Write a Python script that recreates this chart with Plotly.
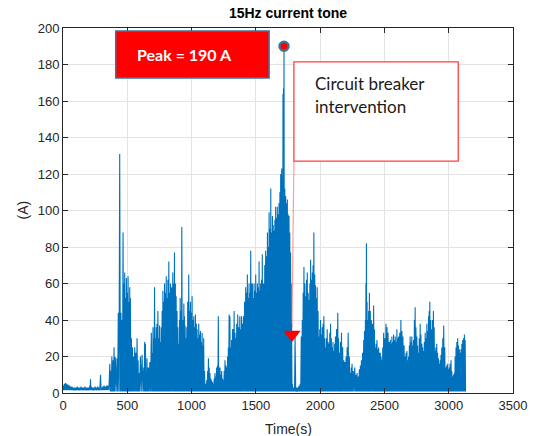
import numpy as np
import plotly.graph_objects as go

# ---- data (time in s, peak current in A) ----
t_peak = [0, 10, 20, 30, 40, 50, 60, 70, 80, 90, 100, 110, 120, 130, 140, 150, 160, 170,
          180, 190, 200, 208, 214, 220, 230, 240, 250, 260, 270, 280, 292, 300, 310, 320,
          330, 340, 350, 364, 372, 380, 390, 397, 407, 420, 430, 441, 451, 459, 467, 474,
          480, 487, 493, 500, 506, 513, 519, 524, 532, 540, 549, 558, 567, 576, 584, 591,
          602, 615, 628, 635, 641, 648, 653, 660, 667, 675, 687, 694, 700, 706, 712, 718,
          725, 731, 738, 745, 751, 758, 764, 771, 777, 784, 790, 797, 803, 810, 816, 823,
          830, 836, 845, 854, 860, 867, 874, 880, 887, 893, 901, 906, 911, 918, 924, 932,
          940, 945, 950, 957, 963, 970, 978, 985, 991, 998, 1004, 1010, 1017, 1024, 1030,
          1037, 1043, 1050, 1056, 1063, 1069, 1076, 1082, 1088, 1094, 1101, 1107, 1112,
          1118, 1125, 1131, 1137, 1143, 1150, 1156, 1163, 1169, 1176, 1182, 1189, 1195,
          1202, 1208, 1215, 1221, 1228, 1234, 1241, 1247, 1254, 1260, 1267, 1273, 1280,
          1286, 1292, 1298, 1305, 1311, 1318, 1327, 1331, 1338, 1344, 1351, 1359, 1367,
          1375, 1381, 1388, 1395, 1403, 1412, 1421, 1428, 1434, 1440, 1447, 1453, 1460,
          1467, 1473, 1480, 1486, 1493, 1499, 1506, 1512, 1518, 1525, 1531, 1537, 1544,
          1550, 1557, 1563, 1569, 1576, 1583, 1590, 1597, 1603, 1610, 1616, 1622, 1629,
          1635, 1641, 1648, 1654, 1661, 1667, 1674, 1680, 1687, 1693, 1697, 1701, 1706,
          1711, 1715, 1719, 1725, 1732, 1738, 1745, 1751, 1758, 1764, 1770, 1775, 1778,
          1784, 1790, 1797, 1805, 1815, 1825, 1835, 1845, 1853, 1861, 1868, 1874, 1881,
          1887, 1894, 1900, 1907, 1913, 1920, 1926, 1932, 1939, 1945, 1951, 1958, 1964,
          1971, 1977, 1984, 1990, 1997, 2003, 2010, 2016, 2023, 2029, 2036, 2042, 2049,
          2055, 2062, 2068, 2075, 2081, 2087, 2093, 2100, 2106, 2113, 2119, 2128, 2137,
          2143, 2150, 2158, 2166, 2175, 2184, 2193, 2202, 2210, 2218, 2227, 2236, 2242,
          2248, 2258, 2269, 2278, 2287, 2296, 2305, 2313, 2321, 2330, 2339, 2345, 2352,
          2356, 2360, 2365, 2370, 2377, 2383, 2390, 2398, 2407, 2416, 2422, 2429, 2435,
          2442, 2448, 2455, 2461, 2468, 2474, 2481, 2487, 2494, 2503, 2512, 2520, 2528,
          2537, 2546, 2552, 2558, 2565, 2571, 2578, 2584, 2590, 2597, 2603, 2610, 2619,
          2628, 2636, 2644, 2653, 2662, 2668, 2675, 2681, 2688, 2694, 2700, 2707, 2713,
          2720, 2726, 2733, 2739, 2745, 2752, 2758, 2765, 2771, 2778, 2784, 2791, 2797,
          2804, 2810, 2817, 2823, 2830, 2836, 2843, 2848, 2853, 2860, 2868, 2874, 2881,
          2887, 2894, 2900, 2907, 2913, 2920, 2926, 2933, 2940, 2946, 2954, 2961, 2969,
          2977, 2984, 2992, 2998, 3005, 3011, 3018, 3024, 3031, 3037, 3044, 3050, 3057,
          3063, 3070, 3076, 3083, 3090, 3096, 3102, 3109, 3115, 3122, 3128]
a_peak = [4, 5, 5.5, 5, 4.5, 4, 3.5, 3.5, 3, 3, 3, 3.5, 3, 3, 3.5, 3, 3, 3.5,
          3, 3, 3, 4, 7.5, 3.5, 3, 3, 3.5, 3, 3.5, 3, 10, 3, 3.5, 4,
          3.5, 4, 4, 16, 12, 20, 18, 25, 19.6, 19, 44, 131, 44, 40, 88, 60,
          66, 52, 63, 55, 64, 50, 58, 52, 30, 25, 20, 25, 22, 30, 18, 11,
          20, 21, 14, 28, 27, 12, 19, 14, 14, 17, 33, 22, 36, 30, 58, 30,
          36, 38, 45, 30, 37, 28, 36, 45, 56, 50, 60, 55, 64, 52, 62, 72,
          55, 60, 58, 66, 60, 77, 60, 53, 45, 36, 27, 40, 52, 45, 91, 40,
          49, 42, 37, 30, 36, 50, 65, 45, 50, 44, 53, 40, 42, 36, 43,
          38, 35, 30, 38, 32, 34, 28, 33, 26, 30, 12, 2.5, 5,
          7, 12, 19, 14, 11, 8, 7, 6, 5, 8, 11, 9, 14,
          15, 42, 14, 14, 10, 12, 8, 7, 12, 18, 15, 14, 20,
          25, 43, 42, 25, 29, 35, 35, 45, 33, 30, 38, 43, 36,
          42, 35, 42, 38, 42, 50, 58, 55, 65, 52, 60, 55, 78,
          60, 60, 52, 60, 56, 65, 55, 60, 58, 72, 56, 60, 62,
          76, 60, 60, 70, 78, 75, 88, 80, 99, 90, 112, 88, 97,
          92, 89, 95, 102, 96, 102, 98, 104, 110, 120, 114, 123, 118,
          164, 167, 190, 112, 108, 104, 106, 98, 97, 88, 77, 60, 38,
          5, 3, 3, 31, 3, 3, 4, 5, 31, 40, 55, 69, 60,
          53, 62, 66, 55, 51, 60, 73, 62, 66, 70, 88, 65, 59,
          52, 58, 45, 31, 35, 40, 32, 36, 38, 42, 30, 25, 30,
          35, 28, 27, 33, 38, 30, 25, 28, 23, 27, 31, 35, 44,
          30, 22, 28, 33, 25, 18, 17, 20, 25, 33, 20, 11, 14,
          16, 12, 14, 10, 11, 9, 13, 15, 18, 22, 29, 34, 40,
          60, 82, 50, 40, 45, 55, 45, 40, 38, 48, 35, 25, 27,
          29, 24, 25, 22, 22, 20, 18, 25, 33, 30, 38, 36, 33,
          28, 29, 27, 31, 28, 32, 29, 31, 28, 35, 30, 31, 33,
          40, 34, 31, 26, 20, 22, 23, 18, 20, 26, 31, 28, 31,
          26, 29, 40, 47, 36, 31, 26, 22, 30, 38, 32, 27, 25,
          23, 28, 33, 30, 38, 34, 42, 45, 50, 40, 35, 40, 45,
          36, 23, 25, 27, 22, 19, 16, 18, 21, 25, 30, 37, 25,
          14, 15, 16, 13, 14, 16, 18, 12, 9, 10, 11, 20, 25,
          28, 30, 26, 24, 22, 24, 27, 29, 30, 32, 29]

# level the current returns to between spikes
floor_start = [0, 360]
floor_level = [1.5, 0.8]

peak_time, peak_value = 1719, 190          # marked maximum
breaker_time, breaker_value = 1781, 32      # circuit breaker intervention mark

x_ticks = [0, 500, 1000, 1500, 2000, 2500, 3000, 3500]
y_ticks = [0, 20, 40, 60, 80, 100, 120, 140, 160, 180, 200]

# ---- build the dense line: each reading is a spike back to the floor ----
tp = np.array(t_peak, dtype=float)
ap = np.array(a_peak, dtype=float)
nxt = np.append(tp[1:], tp[-1] + 6)
mid = (tp + nxt) / 2
lows = np.array(floor_level)[np.searchsorted(floor_start, mid, side="right") - 1]
xs = np.empty(2 * len(tp)); ys = np.empty(2 * len(tp))
xs[0::2] = tp; xs[1::2] = mid
ys[0::2] = ap; ys[1::2] = lows

blue = "#0072BD"
fig = go.Figure()
fig.add_trace(go.Scatter(x=xs, y=ys, mode="lines",
                         line=dict(color=blue, width=1.1, simplify=False),
                         showlegend=False, hoverinfo="skip"))
fig.add_trace(go.Scatter(x=[peak_time], y=[peak_value], mode="markers",
                         marker=dict(symbol="circle", size=9, color="#FF0000",
                                     line=dict(color="#41719C", width=2.5)),
                         showlegend=False, hoverinfo="skip"))
fig.add_trace(go.Scatter(x=[breaker_time], y=[breaker_value], mode="markers",
                         marker=dict(symbol="triangle-down", size=15, color="#FF0000",
                                     line=dict(width=0)),
                         showlegend=False, hoverinfo="skip"))

# annotations boxes
fig.add_shape(type="rect", xref="x", yref="y", x0=410, x1=1603, y0=172.6, y1=198.4,
              fillcolor="#FF0000", line=dict(color="#41719C", width=1.5), layer="above")
fig.add_shape(type="rect", xref="x", yref="y", x0=1796, x1=3074, y0=127.1, y1=181.4,
              fillcolor="white", line=dict(color="#FF4040", width=1.3), layer="above")
fig.add_shape(type="line", xref="x", yref="y", x0=1796, x1=breaker_time, y0=127.1,
              y1=breaker_value + 4, line=dict(color="rgba(255,60,60,0.5)", width=1.2),
              layer="above")

fig.add_annotation(x=560, y=185.5, xref="x", yref="y", text="Peak = 190 A",
                   showarrow=False, xanchor="left", yanchor="middle",
                   font=dict(family="Lato", size=16, color="white", weight="bold"))
fig.add_annotation(x=1945, y=169.5, xref="x", yref="y", text="Circuit breaker",
                   showarrow=False, xanchor="left", yanchor="middle",
                   font=dict(family="Lato", size=17, color="#1a1a1a"))
fig.add_annotation(x=1945, y=157, xref="x", yref="y", text="intervention",
                   showarrow=False, xanchor="left", yanchor="middle",
                   font=dict(family="Lato", size=17, color="#1a1a1a"))

# axis labels
fig.add_annotation(x=0.5, y=0, xref="paper", yref="paper", yshift=-36, text="Time(s)",
                   showarrow=False, xanchor="center", yanchor="middle",
                   font=dict(family="Liberation Sans", size=14, color="#262626"))
fig.add_annotation(x=0, y=0.5, xref="paper", yref="paper", xshift=-41, text="(A)",
                   showarrow=False, textangle=-90, xanchor="center", yanchor="middle",
                   font=dict(family="Liberation Sans", size=14, color="#262626"))

axis_common = dict(showline=True, linecolor="#262626", linewidth=1, mirror="ticks",
                   ticks="inside", ticklen=5, tickcolor="#262626", showgrid=True,
                   gridcolor="#e3e3e3", gridwidth=1, zeroline=False,
                   tickfont=dict(family="Liberation Sans", size=13, color="#262626"))
fig.update_xaxes(range=[0, 3500], tickvals=x_ticks, ticktext=[str(v) for v in x_ticks],
                 **axis_common)
fig.update_yaxes(range=[0, 200], tickvals=y_ticks, ticktext=[str(v) for v in y_ticks],
                 **axis_common)

fig.update_layout(
    width=539, height=436,
    margin=dict(l=63, r=24, t=28, b=43),
    paper_bgcolor="white", plot_bgcolor="white",
    title=dict(text="<b>15Hz current tone</b>", x=0.5, xref="paper", y=1 - 13 / 436,
               yref="container", xanchor="center", yanchor="middle",
               font=dict(family="Liberation Sans", size=14, color="black")),
)

fig.write_html("out.html", config={"displayModeBar": False},
               post_script="document.body.style.margin='0';document.body.style.overflow='hidden';")
